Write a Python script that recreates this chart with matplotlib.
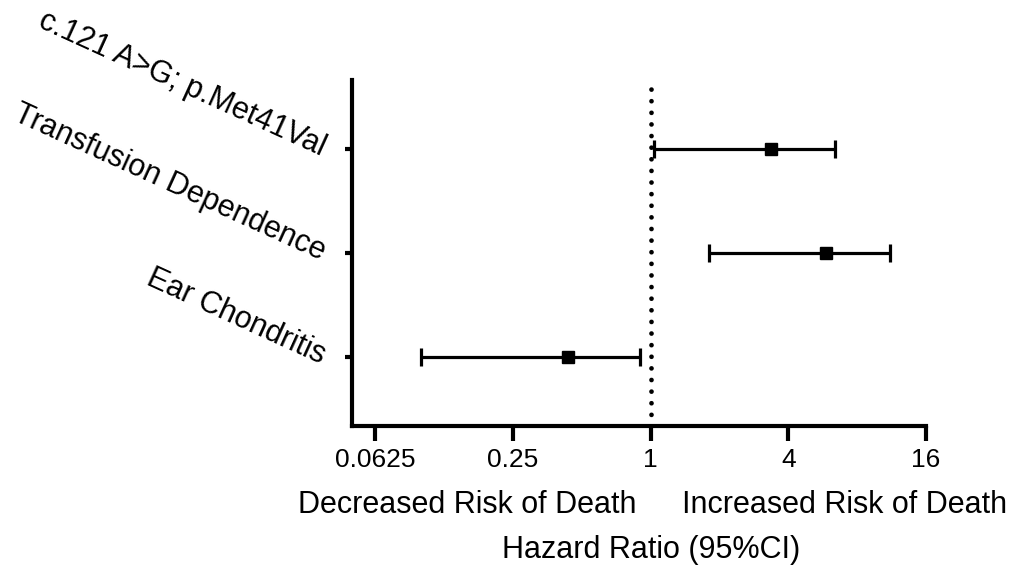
import matplotlib
matplotlib.use("Agg")
import matplotlib.pyplot as plt
from matplotlib.ticker import FixedLocator, FixedFormatter

plt.rcParams["font.family"] = ["Liberation Sans", "DejaVu Sans"]

# hazard ratios (top row first)
labels = ["c.121 A>G; p.Met41Val", "Transfusion Dependence", "Ear Chondritis"]
hr = [3.35, 5.82, 0.436]
ci_low = [1.03, 1.79, 0.099]
ci_high = [6.39, 11.1, 0.898]
xticks = [0.0625, 0.25, 1, 4, 16]
xtick_labels = ["0.0625", "0.25", "1", "4", "16"]

fig = plt.figure(figsize=(10.16, 5.70), dpi=100)
ax = fig.add_axes([352 / 1016, 1 - 426 / 570, (926 - 352) / 1016, (426 - 80) / 570])

ypos = [3, 2, 1]
xerr = [[h - lo for h, lo in zip(hr, ci_low)], [hi - h for h, hi in zip(hr, ci_high)]]
ax.errorbar(hr, ypos, xerr=xerr, fmt="s", color="black", markersize=8.5,
            elinewidth=2.3, capsize=6.2, capthick=2.3, zorder=3)

ax.axvline(1, color="black", linewidth=3.4, linestyle=(0, (0.01, 2.45)),
           dash_capstyle="round", zorder=2)

ax.set_xscale("log", base=2)
ax.set_xlim(2 ** -4.34, 16)
ax.set_ylim(0.34, 3.66)
ax.xaxis.set_major_locator(FixedLocator(xticks))
ax.xaxis.set_major_formatter(FixedFormatter(xtick_labels))
ax.xaxis.set_minor_locator(FixedLocator([]))
ax.set_yticks(ypos)
ax.set_yticklabels(labels, rotation=-24.5, rotation_mode="anchor", ha="right", va="center")

for side in ["top", "right"]:
    ax.spines[side].set_visible(False)
for side in ["left", "bottom"]:
    ax.spines[side].set_linewidth(3)
    ax.spines[side].set_capstyle("projecting")

ax.tick_params(axis="x", length=11, width=3, pad=5, labelsize=19)
ax.tick_params(axis="y", length=5, width=3, pad=15, labelsize=22)

fig.text(467 / 1016, 1 - 505 / 570, "Decreased Risk of Death", ha="center", va="center", fontsize=22)
fig.text(845 / 1016, 1 - 505 / 570, "Increased Risk of Death", ha="center", va="center", fontsize=22)
fig.text(651 / 1016, 1 - 550 / 570, "Hazard Ratio (95%CI)", ha="center", va="center", fontsize=22)

fig.savefig("out.png", dpi=100)
